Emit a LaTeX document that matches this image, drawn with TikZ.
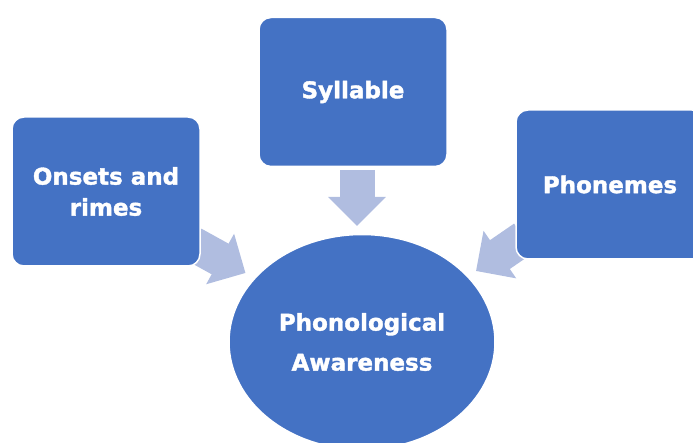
\documentclass[tikz,border=0pt]{standalone}
\usepackage{fontspec}
\setmainfont{DejaVu Sans}
\newfontfamily\heavyfont{DejaVu Sans}[FakeBold=1.6]
\usetikzlibrary{shapes.geometric,arrows.meta}
\definecolor{boxblue}{HTML}{4472C4}
\definecolor{arrowblue}{HTML}{B0BDE0}
\tikzset{
  topicbox/.style={draw=white, line width=1.5pt, fill=boxblue, rounded corners=12pt,
    minimum width=188pt, minimum height=149pt, inner sep=0pt, text=white, align=center,
    font=\fontsize{23}{31}\selectfont\heavyfont\bfseries},
  centreoval/.style={ellipse, draw=white, line width=1.5pt, fill=boxblue,
    minimum width=266pt, minimum height=215pt, inner sep=0pt, text=white, align=center,
    font=\fontsize{23}{40}\selectfont\heavyfont\bfseries},
  blockarrow/.style={draw=arrowblue, line width=35pt,
    -{Triangle[width=56pt,length=29pt,fill=arrowblue]}}
}
\begin{document}
\begin{tikzpicture}[x=1pt,y=-1pt]
\useasboundingbox (0,0) rectangle (693,443);
% arrow ends
\coordinate (a1s) at (357,170);
\coordinate (a1t) at (357,226);
\coordinate (a2s) at (193,244);
\coordinate (a2t) at (245.5,273);
\coordinate (a3s) at (524,238);
\coordinate (a3t) at (476,271);
\draw[blockarrow] (a1s) -- (a1t);
\draw[blockarrow] (a2s) -- (a2t);
\draw[blockarrow] (a3s) -- (a3t);
% boxes
\node[topicbox] (onsets) at (106,191.5) {Onsets and\\rimes};
\node[topicbox] (syll) at (353,92) {Syllable};
\node[topicbox] (phon) at (610,184.5) {Phonemes};
\node[centreoval] (pa) at (362,342) {Phonological\\Awareness};
\end{tikzpicture}
\end{document}
